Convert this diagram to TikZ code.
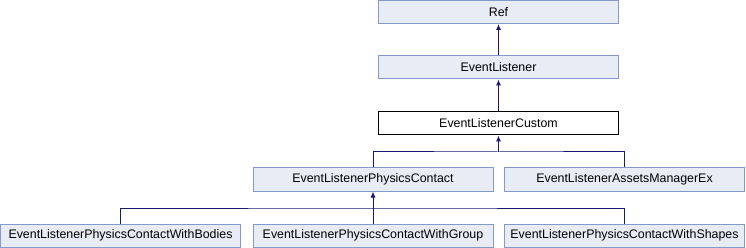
\documentclass[tikz,border=0pt]{standalone}
\usepackage{fontspec}
\setmainfont{Liberation Sans}
\usetikzlibrary{arrows.meta,positioning}
\definecolor{bc}{RGB}{232,236,245}
\definecolor{ec}{RGB}{132,152,204}
\definecolor{ac}{RGB}{25,25,112}
\tikzset{cls/.style={draw=ec,fill=bc,line width=1pt,minimum width=240pt,minimum height=23pt,inner sep=0pt},
 cur/.style={cls,draw=black,fill=white},
 wire/.style={draw=ac,line width=1pt},arr/.style={wire,-{Latex[length=6pt,width=5pt]}},
 every node/.style={font=\fontsize{12.4}{14}\selectfont}}
\begin{document}
\begin{tikzpicture}[x=1pt,y=-1pt]
\useasboundingbox (0,0) rectangle (746,248);
\node[cls] (ref) at (498.5,12) {Ref};
\node[cls] (el) at (498.5,67.5) {EventListener};
\node[cur] (cust) at (498.5,123.5) {EventListenerCustom};
\node[cls] (pc) at (373,179.5) {EventListenerPhysicsContact};\node[cls] (am) at (624.5,179.5) {EventListenerAssetsManagerEx};
\node[cls] (bod) at (120.5,235.5) {EventListenerPhysicsContactWithBodies};\node[cls] (grp) at (373,235.5) {EventListenerPhysicsContactWithGroup};\node[cls] (sha) at (624.5,235.5) {EventListenerPhysicsContactWithShapes};
\coordinate (b1) at (498.5,152);\coordinate (b2) at (373,208);
\draw[arr] (el) -- (ref);\draw[arr] (cust) -- (el);
\draw[wire] (pc.north) |- (b1) -| (am.north);\draw[arr] (b1) -- (cust.south);
\draw[wire] (bod.north) |- (b2) -| (sha.north);\draw[arr] (grp.north) -- (pc.south);
\end{tikzpicture}
\end{document}
